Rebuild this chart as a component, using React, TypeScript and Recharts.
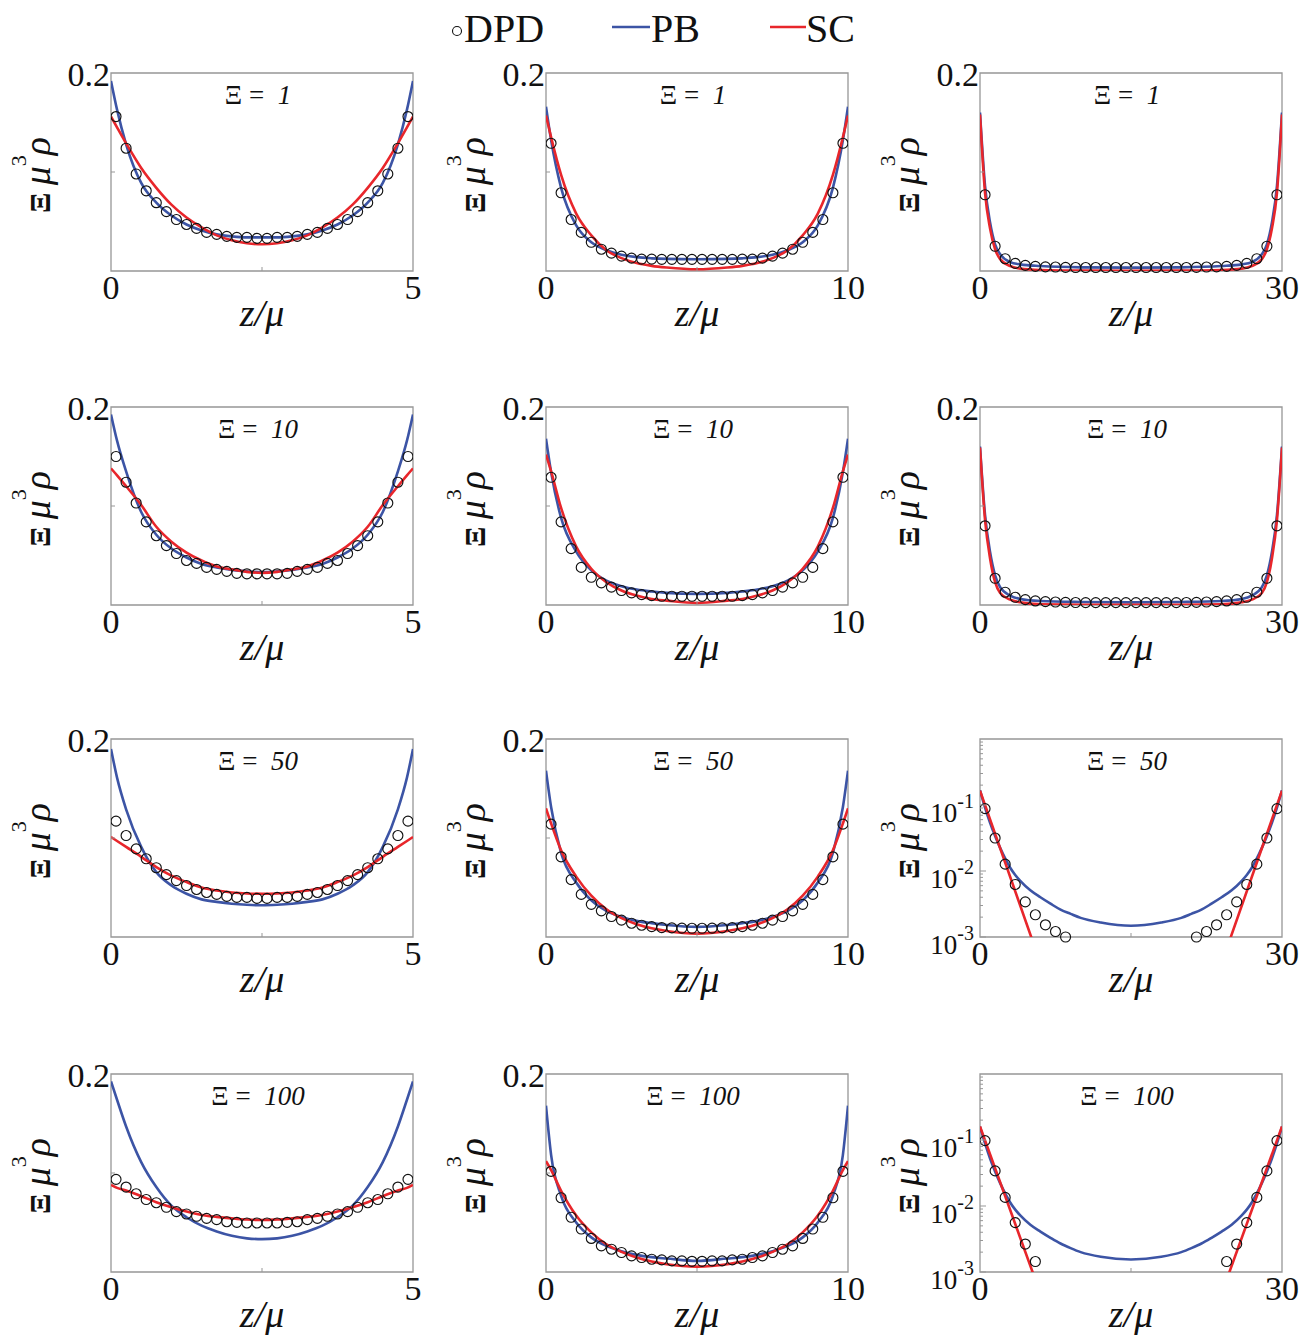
import React from 'react';
import { ComposedChart, Line, Scatter, XAxis, YAxis, ReferenceArea } from 'recharts';

const SERIF = '"Liberation Serif", "Times New Roman", Times, serif';
const BLUE = '#3c54a5';
const RED = '#e8262b';
const FRAME = '#979797';
const INK = '#111';

// z positions of the model curves, per slab width
const Z5 = [0, 0.1, 0.25, 0.5, 0.75, 1, 1.25, 1.5, 1.75, 2, 2.25, 2.5, 2.75, 3, 3.25, 3.5, 3.75, 4, 4.25, 4.5, 4.75, 4.9, 5];
const Z10 = [0, 0.17, 0.5, 1, 1.5, 2, 2.5, 3, 3.5, 4, 5, 6, 6.5, 7, 7.5, 8, 8.5, 9, 9.5, 9.83, 10];
const Z30 = [0, 0.5, 1, 1.5, 2, 3, 4, 6, 10, 15, 20, 24, 26, 27, 28, 28.5, 29, 29.5, 30];
const Z30_LOG = [0, 0.5, 1, 1.5, 2, 2.5, 3, 3.5, 4, 5, 6, 7, 8, 9, 10, 12, 15, 18, 20, 21, 22, 23, 24, 25, 26, 26.5, 27, 27.5, 28, 28.5, 29, 29.5, 30];
const Z_SC_LOG = [0, 6, 15, 24, 30];

// DPD bin centres
const ZD5 = [0.083, 0.25, 0.417, 0.583, 0.75, 0.917, 1.083, 1.25, 1.417, 1.583, 1.75, 1.917, 2.083, 2.25, 2.417, 2.583, 2.75, 2.917, 3.083, 3.25, 3.417, 3.583, 3.75, 3.917, 4.083, 4.25, 4.417, 4.583, 4.75, 4.917];
const ZD10 = [0.167, 0.5, 0.833, 1.167, 1.5, 1.833, 2.167, 2.5, 2.833, 3.167, 3.5, 3.833, 4.167, 4.5, 4.833, 5.167, 5.5, 5.833, 6.167, 6.5, 6.833, 7.167, 7.5, 7.833, 8.167, 8.5, 8.833, 9.167, 9.5, 9.833];
const ZD30 = [0.5, 1.5, 2.5, 3.5, 4.5, 5.5, 6.5, 7.5, 8.5, 9.5, 10.5, 11.5, 12.5, 13.5, 14.5, 15.5, 16.5, 17.5, 18.5, 19.5, 20.5, 21.5, 22.5, 23.5, 24.5, 25.5, 26.5, 27.5, 28.5, 29.5];

// Xi = 1
const PB_1_5 = [0.192, 0.163, 0.128, 0.089, 0.069, 0.056, 0.047, 0.041, 0.037, 0.035, 0.034, 0.034, 0.034, 0.035, 0.037, 0.041, 0.047, 0.056, 0.069, 0.089, 0.128, 0.163, 0.192];
const SC_1_5 = [0.156, 0.145, 0.129, 0.104, 0.084, 0.067, 0.054, 0.044, 0.036, 0.031, 0.028, 0.027, 0.028, 0.031, 0.036, 0.044, 0.054, 0.067, 0.084, 0.104, 0.129, 0.145, 0.156];
const DPD_1_5 = [0.156, 0.124, 0.098, 0.081, 0.069, 0.060, 0.052, 0.047, 0.043, 0.039, 0.037, 0.035, 0.034, 0.034, 0.033, 0.033, 0.034, 0.034, 0.035, 0.037, 0.039, 0.043, 0.047, 0.052, 0.060, 0.069, 0.081, 0.098, 0.124, 0.156];
const PB_1_10 = [0.166, 0.132, 0.084, 0.046, 0.029, 0.021, 0.0165, 0.014, 0.0128, 0.0122, 0.0118, 0.0122, 0.0128, 0.014, 0.0165, 0.021, 0.029, 0.046, 0.084, 0.132, 0.166];
const SC_1_10 = [0.157, 0.135, 0.097, 0.058, 0.036, 0.021, 0.013, 0.008, 0.0052, 0.0035, 0.0017, 0.0035, 0.0052, 0.008, 0.013, 0.021, 0.036, 0.058, 0.097, 0.135, 0.157];
const DPD_1_10 = [0.129, 0.079, 0.052, 0.039, 0.029, 0.022, 0.018, 0.015, 0.013, 0.012, 0.012, 0.0118, 0.0118, 0.0118, 0.0118, 0.0118, 0.0118, 0.0118, 0.0118, 0.012, 0.012, 0.013, 0.015, 0.018, 0.022, 0.029, 0.039, 0.052, 0.079, 0.129];
const PB_1_30 = [0.160, 0.086, 0.049, 0.027, 0.017, 0.009, 0.0067, 0.005, 0.0037, 0.0034, 0.0037, 0.005, 0.0067, 0.009, 0.017, 0.027, 0.049, 0.086, 0.160];
const SC_1_30 = [0.158, 0.079, 0.043, 0.022, 0.012, 0.005, 0.0024, 0.001, 0.0004, 0.0003, 0.0004, 0.001, 0.0024, 0.005, 0.012, 0.022, 0.043, 0.079, 0.158];
const DPD_1_30 = [0.077, 0.025, 0.0124, 0.0077, 0.0057, 0.0047, 0.0042, 0.004, 0.0037, 0.0035, 0.0035, 0.0035, 0.0035, 0.0035, 0.0035, 0.0035, 0.0035, 0.0035, 0.0035, 0.0035, 0.0035, 0.0037, 0.004, 0.0042, 0.0047, 0.0057, 0.0077, 0.0124, 0.025, 0.077];

// Xi = 10
const PB_10_5 = [0.1925, 0.166, 0.135, 0.094, 0.071, 0.057, 0.048, 0.0415, 0.038, 0.0355, 0.034, 0.0332, 0.034, 0.0355, 0.038, 0.0415, 0.048, 0.057, 0.071, 0.094, 0.135, 0.166, 0.1925];
const SC_10_5 = [0.138, 0.131, 0.120, 0.101, 0.079, 0.064, 0.053, 0.045, 0.039, 0.036, 0.0335, 0.0325, 0.0335, 0.036, 0.039, 0.045, 0.053, 0.064, 0.079, 0.101, 0.120, 0.131, 0.138];
const DPD_10_5 = [0.150, 0.124, 0.103, 0.084, 0.070, 0.060, 0.052, 0.045, 0.042, 0.038, 0.036, 0.034, 0.032, 0.0315, 0.0315, 0.0315, 0.0315, 0.032, 0.034, 0.036, 0.038, 0.042, 0.045, 0.052, 0.060, 0.070, 0.084, 0.103, 0.124, 0.150];
const PB_10_10 = [0.168, 0.134, 0.088, 0.054, 0.035, 0.0247, 0.019, 0.0156, 0.0136, 0.0122, 0.0112, 0.0122, 0.0136, 0.0156, 0.019, 0.0247, 0.035, 0.054, 0.088, 0.134, 0.168];
const SC_10_10 = [0.152, 0.135, 0.098, 0.059, 0.0366, 0.023, 0.0146, 0.0095, 0.0061, 0.0044, 0.002, 0.0044, 0.0061, 0.0095, 0.0146, 0.023, 0.0366, 0.059, 0.098, 0.135, 0.152];
const DPD_10_10 = [0.129, 0.084, 0.057, 0.038, 0.028, 0.0224, 0.018, 0.0146, 0.0122, 0.0105, 0.0095, 0.0088, 0.0088, 0.0088, 0.0088, 0.0088, 0.0088, 0.0088, 0.0088, 0.0095, 0.0105, 0.0122, 0.0146, 0.018, 0.0224, 0.028, 0.038, 0.057, 0.084, 0.129];
const PB_10_30 = [0.160, 0.091, 0.0535, 0.030, 0.018, 0.0095, 0.0061, 0.0041, 0.0031, 0.0027, 0.0031, 0.0041, 0.0061, 0.0095, 0.018, 0.030, 0.0535, 0.091, 0.160];
const SC_10_30 = [0.159, 0.086, 0.047, 0.023, 0.0122, 0.0054, 0.0027, 0.0007, 0.0003, 0.0003, 0.0003, 0.0007, 0.0027, 0.0054, 0.0122, 0.023, 0.047, 0.086, 0.159];
const DPD_10_30 = [0.080, 0.027, 0.0129, 0.0078, 0.0054, 0.0041, 0.0034, 0.003, 0.0027, 0.0025, 0.0024, 0.0024, 0.0024, 0.0024, 0.0024, 0.0024, 0.0024, 0.0024, 0.0024, 0.0024, 0.0025, 0.0027, 0.003, 0.0034, 0.0041, 0.0054, 0.0078, 0.0129, 0.027, 0.080];

// Xi = 50
const PB_50_5 = [0.190, 0.161, 0.129, 0.091, 0.0655, 0.052, 0.0437, 0.038, 0.0355, 0.0336, 0.0325, 0.032, 0.0325, 0.0336, 0.0355, 0.038, 0.0437, 0.052, 0.0655, 0.091, 0.129, 0.161, 0.190];
const SC_50_5 = [0.101, 0.097, 0.091, 0.081, 0.0706, 0.062, 0.0555, 0.050, 0.047, 0.045, 0.044, 0.0437, 0.044, 0.045, 0.047, 0.050, 0.0555, 0.062, 0.0706, 0.081, 0.091, 0.097, 0.101];
const DPD_50_5 = [0.117, 0.1025, 0.089, 0.079, 0.070, 0.063, 0.057, 0.052, 0.048, 0.045, 0.043, 0.041, 0.040, 0.040, 0.039, 0.039, 0.040, 0.040, 0.041, 0.043, 0.045, 0.048, 0.052, 0.057, 0.063, 0.070, 0.079, 0.089, 0.1025, 0.117];
const PB_50_10 = [0.168, 0.131, 0.085, 0.055, 0.037, 0.0264, 0.0203, 0.0163, 0.014, 0.0122, 0.0102, 0.0122, 0.014, 0.0163, 0.0203, 0.0264, 0.037, 0.055, 0.085, 0.131, 0.168];
const SC_50_10 = [0.130, 0.1146, 0.0875, 0.061, 0.0417, 0.028, 0.019, 0.0129, 0.0088, 0.0061, 0.0034, 0.0061, 0.0088, 0.0129, 0.019, 0.028, 0.0417, 0.061, 0.0875, 0.1146, 0.130];
const DPD_50_10 = [0.114, 0.081, 0.058, 0.043, 0.033, 0.0264, 0.0207, 0.017, 0.0139, 0.0119, 0.0105, 0.0095, 0.0092, 0.009, 0.0088, 0.0088, 0.009, 0.0092, 0.0095, 0.0105, 0.0119, 0.0139, 0.017, 0.0207, 0.0264, 0.033, 0.043, 0.058, 0.081, 0.114];
const PB_50_30 = [0.167, 0.0912, 0.0537, 0.0339, 0.0224, 0.0155, 0.0112, 0.0087, 0.0071, 0.0051, 0.004, 0.0032, 0.0026, 0.00224, 0.00195, 0.00166, 0.00148, 0.00166, 0.00195, 0.00224, 0.0026, 0.0032, 0.004, 0.0051, 0.0071, 0.0087, 0.0112, 0.0155, 0.0224, 0.0339, 0.0537, 0.0912, 0.167];
const SC_50_30 = [0.165, 0.0004, null, 0.0004, 0.165];
const DPD_50_30 = [0.088, 0.0316, 0.0127, 0.00625, 0.0034, 0.00217, 0.00153, 0.00121, 0.001, null, null, null, null, null, null, null, null, null, null, null, null, 0.001, 0.00121, 0.00153, 0.00217, 0.0034, 0.00625, 0.0127, 0.0316, 0.088];

// Xi = 100
const PB_100_5 = [0.1925, 0.174, 0.147, 0.111, 0.0858, 0.067, 0.0553, 0.0468, 0.041, 0.0366, 0.034, 0.0332, 0.034, 0.0366, 0.041, 0.0468, 0.0553, 0.067, 0.0858, 0.111, 0.147, 0.174, 0.1925];
const SC_100_5 = [0.088, 0.085, 0.0824, 0.0766, 0.0705, 0.0654, 0.061, 0.0576, 0.0557, 0.0542, 0.053, 0.0525, 0.053, 0.0542, 0.0557, 0.0576, 0.061, 0.0654, 0.0705, 0.0766, 0.0824, 0.085, 0.088];
const DPD_100_5 = [0.0936, 0.0858, 0.079, 0.0732, 0.070, 0.0654, 0.061, 0.0586, 0.0563, 0.0542, 0.0529, 0.0508, 0.0502, 0.0495, 0.0495, 0.0495, 0.0495, 0.0502, 0.0508, 0.0529, 0.0542, 0.0563, 0.0586, 0.061, 0.0654, 0.070, 0.0732, 0.079, 0.0858, 0.0936];
const PB_100_10 = [0.168, 0.118, 0.077, 0.050, 0.035, 0.0264, 0.021, 0.0173, 0.015, 0.0136, 0.0112, 0.0136, 0.015, 0.0173, 0.021, 0.0264, 0.035, 0.050, 0.077, 0.118, 0.168];
const SC_100_10 = [0.112, 0.103, 0.082, 0.057, 0.040, 0.028, 0.0203, 0.0146, 0.0105, 0.0078, 0.0054, 0.0078, 0.0105, 0.0146, 0.0203, 0.028, 0.040, 0.057, 0.082, 0.103, 0.112];
const DPD_100_10 = [0.1017, 0.075, 0.0553, 0.0434, 0.0339, 0.0264, 0.023, 0.0197, 0.0163, 0.0146, 0.0129, 0.0122, 0.0112, 0.0112, 0.0108, 0.0108, 0.0112, 0.0112, 0.0122, 0.0129, 0.0146, 0.0163, 0.0197, 0.023, 0.0264, 0.0339, 0.0434, 0.0553, 0.075, 0.1017];
const PB_100_30 = [0.159, 0.089, 0.0525, 0.0333, 0.0222, 0.0155, 0.0113, 0.0088, 0.0072, 0.0052, 0.0041, 0.0033, 0.0027, 0.0023, 0.002, 0.0017, 0.00155, 0.0017, 0.002, 0.0023, 0.0027, 0.0033, 0.0041, 0.0052, 0.0072, 0.0088, 0.0113, 0.0155, 0.0222, 0.0333, 0.0525, 0.089, 0.159];
const SC_100_30 = [0.16, 0.00047, null, 0.00047, 0.16];
const DPD_100_30 = [0.098, 0.034, 0.0135, 0.0056, 0.00265, 0.00144, null, null, null, null, null, null, null, null, null, null, null, null, null, null, null, null, null, null, 0.00144, 0.00265, 0.0056, 0.0135, 0.034, 0.098];

const LIN_TICKS = [0.1, 0.2];
const LOG_TICKS = [0.001, 0.002, 0.003, 0.004, 0.005, 0.006, 0.007, 0.008, 0.009, 0.01, 0.02, 0.03, 0.04, 0.05, 0.06, 0.07, 0.08, 0.09, 0.1, 0.2, 0.3, 0.4, 0.5, 0.6, 0.7, 0.8, 0.9, 1];
const LOG_LABELS: Record<string, string> = { '0.1': '-1', '0.01': '-2', '0.001': '-3' };

type Row = { z: number; v: number | null };
const rows = (zs: number[], vs: (number | null)[]): Row[] => zs.map((z, i) => ({ z, v: vs[i] }));

const PANELS = [
  { xi: 1, w: 5, log: false, zc: Z5, zd: ZD5, pb: PB_1_5, sc: SC_1_5, dpd: DPD_1_5 },
  { xi: 1, w: 10, log: false, zc: Z10, zd: ZD10, pb: PB_1_10, sc: SC_1_10, dpd: DPD_1_10 },
  { xi: 1, w: 30, log: false, zc: Z30, zd: ZD30, pb: PB_1_30, sc: SC_1_30, dpd: DPD_1_30 },
  { xi: 10, w: 5, log: false, zc: Z5, zd: ZD5, pb: PB_10_5, sc: SC_10_5, dpd: DPD_10_5 },
  { xi: 10, w: 10, log: false, zc: Z10, zd: ZD10, pb: PB_10_10, sc: SC_10_10, dpd: DPD_10_10 },
  { xi: 10, w: 30, log: false, zc: Z30, zd: ZD30, pb: PB_10_30, sc: SC_10_30, dpd: DPD_10_30 },
  { xi: 50, w: 5, log: false, zc: Z5, zd: ZD5, pb: PB_50_5, sc: SC_50_5, dpd: DPD_50_5 },
  { xi: 50, w: 10, log: false, zc: Z10, zd: ZD10, pb: PB_50_10, sc: SC_50_10, dpd: DPD_50_10 },
  { xi: 50, w: 30, log: true, zc: Z30_LOG, zd: ZD30, pb: PB_50_30, sc: SC_50_30, dpd: DPD_50_30 },
  { xi: 100, w: 5, log: false, zc: Z5, zd: ZD5, pb: PB_100_5, sc: SC_100_5, dpd: DPD_100_5 },
  { xi: 100, w: 10, log: false, zc: Z10, zd: ZD10, pb: PB_100_10, sc: SC_100_10, dpd: DPD_100_10 },
  { xi: 100, w: 30, log: true, zc: Z30_LOG, zd: ZD30, pb: PB_100_30, sc: SC_100_30, dpd: DPD_100_30 },
];

const COL_LEFT = [111, 546, 980];
const ROW_TOP = [73, 407, 739, 1074];
const PW = 302;
const PH = 198;
const YW = 1; // y axis band (a zero-width axis is not drawn)
const M = { top: 40, right: 30, left: 100 - YW, bottom: 0 };
const XH = 80;
const CW = 100 + PW + M.right;
const CH = M.top + PH + XH;

const XTick = (p: any) => {
  const { x, y, payload, w } = p;
  if (payload.value === w / 2) return <line x1={x} x2={x} y1={y} y2={y - 4} stroke={FRAME} strokeWidth={1} />;
  return (
    <text x={x} y={y + 28} textAnchor="middle" fontFamily={SERIF} fontSize={34} fill={INK}>
      {payload.value}
    </text>
  );
};

const YTickLin = (p: any) => {
  const { x, y, payload } = p;
  if (payload.value === 0.2)
    return (
      <text x={x - 1} y={y + 13} textAnchor="end" fontFamily={SERIF} fontSize={34} fill={INK}>
        0.2
      </text>
    );
  return <line x1={x} x2={x + 4} y1={y} y2={y} stroke={FRAME} strokeWidth={1} />;
};

const YTickLog = (p: any) => {
  const { x, y, payload } = p;
  if (payload.value === 1) return <g />;
  const lab = LOG_LABELS[String(payload.value)];
  return (
    <g>
      <line x1={x} x2={x + (lab ? 6 : 3)} y1={y} y2={y} stroke={FRAME} strokeWidth={1} />
      {lab && (
        <text x={x - 6} y={y + 17} textAnchor="end" fontFamily={SERIF} fontSize={27} fill={INK}>
          10
          <tspan dy={-14} fontSize={20}>{lab}</tspan>
        </text>
      )}
    </g>
  );
};

const Ring = (p: any) => <circle cx={p.cx} cy={p.cy} r={5} fill="none" stroke={INK} strokeWidth={1.15} />;

function Panel({ cfg, left, top }: { cfg: (typeof PANELS)[number]; left: number; top: number }) {
  const { w, log, xi } = cfg;
  const domain: [number, number] = log ? [0.001, 1] : [0, 0.2];
  const pbRows = rows(cfg.zc, cfg.pb);
  const scRows = rows(log ? Z_SC_LOG : cfg.zc, cfg.sc);
  const dpdRows = rows(cfg.zd, cfg.dpd).filter((r) => r.v != null);
  return (
    <div style={{ position: 'absolute', left: left - 100, top: top - M.top, width: CW, height: CH }}>
      <ComposedChart width={CW} height={CH} margin={M}>
        <XAxis
          dataKey="z"
          type="number"
          domain={[0, w]}
          ticks={[0, w / 2, w]}
          interval={0}
          height={XH}
          tickSize={0}
          tickMargin={0}
          tickLine={false}
          axisLine={false}
          allowDataOverflow
          tick={(p: any) => <XTick {...p} w={w} />}
        />
        <YAxis
          yAxisId="main"
          type="number"
          scale={log ? 'log' : 'linear'}
          domain={domain}
          ticks={log ? LOG_TICKS : LIN_TICKS}
          interval={0}
          width={YW}
          tickSize={0}
          tickMargin={0}
          tickLine={false}
          axisLine={false}
          allowDataOverflow
          tick={(p: any) => (log ? <YTickLog {...p} /> : <YTickLin {...p} />)}
        />
        <YAxis yAxisId="pts" type="number" scale={log ? 'log' : 'linear'} domain={domain} hide />
        <ReferenceArea yAxisId="main" x1={0} x2={w} y1={domain[0]} y2={domain[1]} fill="none" stroke={FRAME} strokeWidth={1.3} ifOverflow="visible" />
        <Scatter yAxisId="pts" data={dpdRows} dataKey="v" shape={Ring} isAnimationActive={false} />
        <Line yAxisId="main" data={pbRows} dataKey="v" type="monotone" stroke={BLUE} strokeWidth={2.6} dot={false} isAnimationActive={false} />
        <Line yAxisId="main" data={scRows} dataKey="v" type={log ? 'linear' : 'monotone'} stroke={RED} strokeWidth={2.6} dot={false} isAnimationActive={false} />
      </ComposedChart>
      <svg width={CW} height={CH} style={{ position: 'absolute', left: 0, top: 0, pointerEvents: 'none', overflow: 'visible' }}>
        <text x={100 + PW / 2 - 4} y={M.top + 31} textAnchor="middle" fontFamily={SERIF} fontSize={27} fill={INK}>
          {'Ξ = \u00a0'}
          <tspan fontStyle="italic">{xi}</tspan>
        </text>
        <g transform={`translate(${100 - 61}, ${M.top + PH / 2 + 3}) rotate(-90)`}>
          <text x={0} y={0} textAnchor="middle" fontFamily={SERIF} fill={INK}>
            <tspan fontWeight="bold" fontSize={30}>Ξ</tspan>
            <tspan fontSize={30}>{'\u00a0'}</tspan>
            <tspan fontStyle="italic" fontSize={38}>μ</tspan>
            <tspan fontSize={22} dy={-24}>3</tspan>
            <tspan fontStyle="italic" fontSize={38} dy={24}>ρ</tspan>
          </text>
        </g>
        <text x={100 + PW / 2} y={M.top + PH + 55} textAnchor="middle" fontFamily={SERIF} fontStyle="italic" fontSize={38} fill={INK}>
          z/μ
        </text>
      </svg>
    </div>
  );
}

export default function App() {
  return (
    <div style={{ position: 'absolute', left: 0, top: 0, width: 1303, height: 1335, background: '#fff', overflow: 'hidden' }}>
      <svg width={1303} height={60} style={{ position: 'absolute', left: 0, top: 0 }}>
        <circle cx={457} cy={31} r={4.5} fill="none" stroke={INK} strokeWidth={1.1} />
        <text x={464} y={42} fontFamily={SERIF} fontSize={40} fill={INK}>DPD</text>
        <line x1={612} x2={650} y1={27} y2={27} stroke={BLUE} strokeWidth={2.6} />
        <text x={651} y={42} fontFamily={SERIF} fontSize={40} fill={INK}>PB</text>
        <line x1={770} x2={806} y1={27} y2={27} stroke={RED} strokeWidth={2.6} />
        <text x={806} y={42} fontFamily={SERIF} fontSize={40} fill={INK}>SC</text>
      </svg>
      {PANELS.map((cfg, i) => (
        <Panel key={i} cfg={cfg} left={COL_LEFT[i % 3]} top={ROW_TOP[Math.floor(i / 3)]} />
      ))}
    </div>
  );
}
